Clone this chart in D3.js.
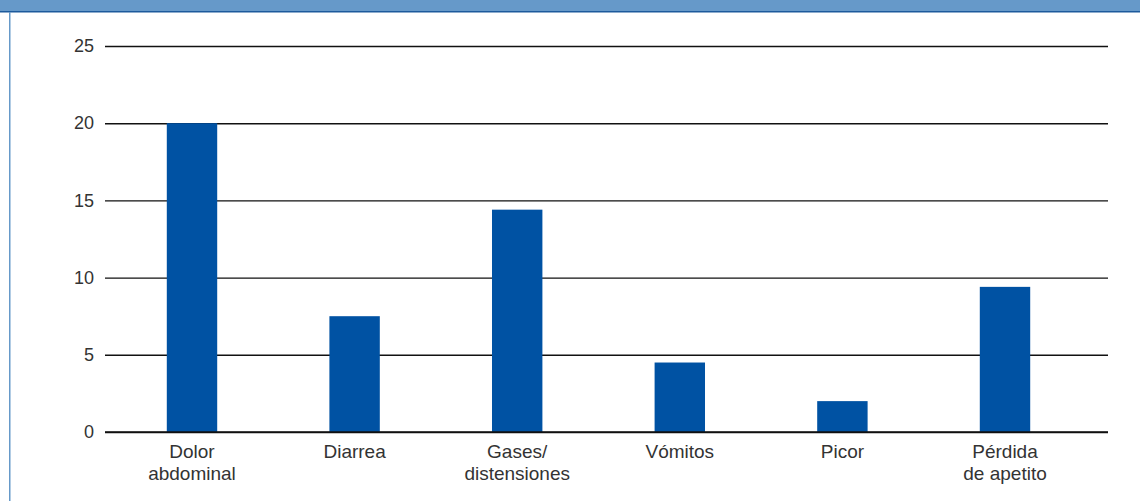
<!DOCTYPE html>
<html>
<head>
<meta charset="utf-8">
<script src="https://cdn.jsdelivr.net/npm/d3@7"></script>
<style>
  body { margin: 0; background: #fff; }
  text { font-family: "Liberation Sans", Arial, sans-serif; fill: #333; }
</style>
</head>
<body>
<div id="chart"></div>
<script>
// Chart data
const categories = ["Dolor\nabdominal", "Diarrea", "Gases/\ndistensiones", "Vómitos", "Picor", "Pérdida\nde apetito"];
const values = [20, 7.5, 14.4, 4.5, 2, 9.4];
const yTicks = [0, 5, 10, 15, 20, 25];

const width = 1140;
const height = 501;

const svg = d3.select("#chart")
    .append("svg")
    .attr("width", width)
    .attr("height", height);

// header band and left border
svg.append("rect")
    .attr("x", 0).attr("y", 0)
    .attr("width", width).attr("height", 11)
    .attr("fill", "#6699c9");
svg.append("rect")
    .attr("x", 0).attr("y", 11)
    .attr("width", width).attr("height", 1.5)
    .attr("fill", "#1d5a9c");
svg.append("rect")
    .attr("x", 9).attr("y", 12)
    .attr("width", 1.5).attr("height", height - 12)
    .attr("fill", "#6699c9");

// scales
const x = d3.scaleBand()
    .domain(categories)
    .range([110.7, 1086.3])
    .paddingInner(0.69)
    .paddingOuter(0.345);

const y = d3.scaleLinear()
    .domain([0, 25])
    .range([432, 46]);

// gridlines + y labels
const yAxis = d3.axisLeft(y)
    .tickValues(yTicks)
    .tickSize(-(1108 - 105))
    .tickPadding(11);

const gy = svg.append("g")
    .attr("transform", "translate(105,0)")
    .call(yAxis);
gy.select(".domain").remove();
gy.selectAll(".tick line")
    .attr("stroke", "#111")
    .attr("stroke-width", 1.4)
    .attr("x1", 0)
    .attr("x2", 1108 - 105);
gy.selectAll(".tick text")
    .attr("font-size", 18)
    .attr("fill", "#333");

// bars
svg.append("g")
    .selectAll("rect")
    .data(values)
    .join("rect")
    .attr("x", (d, i) => x(categories[i]))
    .attr("y", d => y(d))
    .attr("width", x.bandwidth())
    .attr("height", d => y(0) - y(d))
    .attr("fill", "#0052a3");

// redraw baseline over bars
svg.append("line")
    .attr("x1", 105).attr("x2", 1108)
    .attr("y1", y(0)).attr("y2", y(0))
    .attr("stroke", "#111")
    .attr("stroke-width", 1.4);

// category labels
const labels = svg.append("g")
    .selectAll("text")
    .data(categories)
    .join("text")
    .attr("x", d => x(d) + x.bandwidth() / 2)
    .attr("y", 458)
    .attr("text-anchor", "middle")
    .attr("font-size", 19);

labels.selectAll("tspan")
    .data(d => d.split("\n"))
    .join("tspan")
    .attr("x", function () { return d3.select(this.parentNode).attr("x"); })
    .attr("dy", (d, i) => i === 0 ? 0 : 22)
    .text(d => d);
</script>
</body>
</html>
